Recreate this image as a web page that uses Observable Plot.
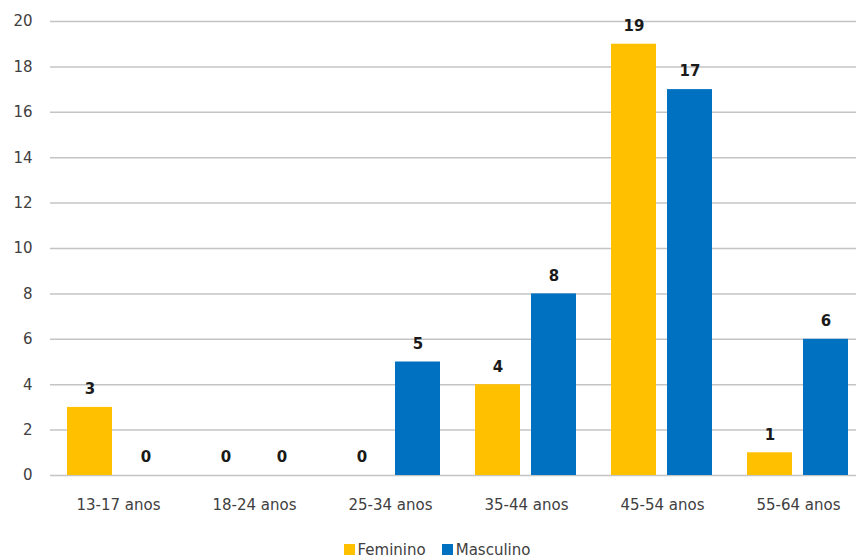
<!DOCTYPE html>
<html>
<head>
<meta charset="utf-8">
<script src="https://cdn.jsdelivr.net/npm/d3@7"></script>
<script src="https://cdn.jsdelivr.net/npm/@observablehq/plot@0.6"></script>
<style>
  body { margin: 0; background: #fff; font-family: "DejaVu Sans", sans-serif; }
  #legend { display: flex; justify-content: center; gap: 16px; padding-left: 18px; margin-top: 6px; font-size: 15px; color: #404040; }
  #legend span.sw { display: inline-block; width: 11px; height: 11px; margin-right: 3px; vertical-align: 0px; }
</style>
</head>
<body>
<div id="chart"></div>
<div id="legend"></div>
<script>
const categories = ["13-17 anos", "18-24 anos", "25-34 anos", "35-44 anos", "45-54 anos", "55-64 anos"];
const series = ["Feminino", "Masculino"];
const feminino = [3, 0, 0, 4, 19, 1];
const masculino = [0, 0, 5, 8, 17, 6];
const yTicks = [0, 2, 4, 6, 8, 10, 12, 14, 16, 18, 20];
const colors = ["#FFC000", "#0070C0"];

const data = [];
categories.forEach((c, i) => {
  data.push({cat: c, sex: series[0], value: feminino[i]});
  data.push({cat: c, sex: series[1], value: masculino[i]});
});

const chart = Plot.plot({
  width: 856,
  height: 535,
  marginLeft: 50,
  marginRight: -10,
  marginTop: 21,
  marginBottom: 60,
  style: {fontFamily: "DejaVu Sans, sans-serif", fontSize: "15px", color: "#404040", background: "#fff"},
  fx: {domain: categories, padding: 0, label: null, axis: "bottom", tickSize: 0, tickPadding: 24},
  x: {domain: series, axis: null, paddingInner: 0.193, paddingOuter: 0.29},
  y: {domain: [0, 20], ticks: yTicks, tickSize: 0, tickPadding: 18, label: null},
  color: {domain: series, range: colors},
  marks: [
    Plot.ruleY(yTicks, {stroke: "#c4c4c4", strokeWidth: 1.5}),
    Plot.barY(data, {fx: "cat", x: "sex", y: "value", fill: "sex"}),
    Plot.text(data, {fx: "cat", x: "sex", y: "value", text: d => String(d.value), dy: -18, fontWeight: "bold", fontSize: 15, fill: "#1a1a1a"})
  ]
});
document.getElementById("chart").appendChild(chart);

const legend = document.getElementById("legend");
series.forEach((s, i) => {
  const item = document.createElement("div");
  const sw = document.createElement("span");
  sw.className = "sw";
  sw.style.background = colors[i];
  item.appendChild(sw);
  item.appendChild(document.createTextNode(s));
  legend.appendChild(item);
});
</script>
</body>
</html>
